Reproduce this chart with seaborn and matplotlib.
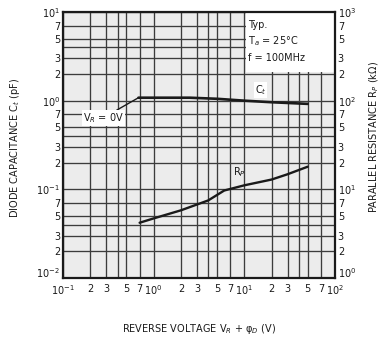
import matplotlib
matplotlib.use("Agg")
import matplotlib.pyplot as plt
import matplotlib.transforms as mtransforms
import seaborn as sns
import pandas as pd
from matplotlib.patches import Rectangle

# Diode capacitance Ct (pF) versus reverse voltage VR + phiD (V)
ct_voltage = [0.68, 2.5, 5, 10, 20, 50]
ct_pf = [1.08, 1.08, 1.05, 1.0, 0.96, 0.92]

# Parallel resistance Rp (kOhm) versus reverse voltage VR + phiD (V)
rp_voltage = [0.7, 1.0, 2.0, 4.0, 6.0, 10.0, 20.0, 30.0, 50.0]
rp_kohm = [4.2, 4.7, 5.8, 7.5, 9.7, 11.1, 12.9, 14.8, 18.0]

# Graph-paper rulings and their labels
x_grid = [0.1, 0.2, 0.3, 0.4, 0.5, 0.7, 1, 2, 3, 4, 5, 7, 10, 20, 30, 40, 50, 70, 100]
x_labels = ["$10^{-1}$", "2", "3", "", "5", "7", "$10^{0}$", "2", "3", "", "5", "7",
            "$10^{1}$", "2", "3", "", "5", "7", "$10^{2}$"]
y_grid = [0.01, 0.02, 0.03, 0.04, 0.05, 0.07, 0.1, 0.2, 0.3, 0.4, 0.5, 0.7, 1, 2, 3, 4, 5, 7, 10]
y_labels = ["$10^{-2}$", "2", "3", "", "5", "7", "$10^{-1}$", "2", "3", "", "5", "7",
            "$10^{0}$", "2", "3", "", "5", "7", "$10^{1}$"]
r_grid = [1, 2, 3, 4, 5, 7, 10, 20, 30, 40, 50, 70, 100, 200, 300, 400, 500, 700, 1000]
r_labels = ["$10^{0}$", "2", "3", "", "5", "7", "$10^{1}$", "2", "3", "", "5", "7",
            "$10^{2}$", "2", "3", "", "5", "7", "$10^{3}$"]

sns.set_theme(style="white")
plt.rcParams["font.family"] = ["DejaVu Sans"]
plt.rcParams["mathtext.fontset"] = "dejavusans"

ink = "#1a1a1a"
grid_ink = "#3c3c3c"
fs = 7

fig = plt.figure(figsize=(3.82, 3.43), dpi=100)
ax = fig.add_axes([63 / 382, (343 - 278) / 343, 272 / 382, 266 / 343])
ax.set_facecolor("#ececec")

ct_df = pd.DataFrame({"voltage": ct_voltage, "ct": ct_pf})
sns.lineplot(data=ct_df, x="voltage", y="ct", ax=ax, color=ink, lw=1.9, zorder=4)

ax.set_xscale("log")
ax.set_yscale("log")
ax.set_xlim(0.1, 100)
ax.set_ylim(0.01, 10)
ax.set_xticks(x_grid)
ax.set_xticklabels(x_labels)
ax.set_yticks(y_grid)
ax.set_yticklabels(y_labels)
ax.minorticks_off()
ax.tick_params(length=0, labelsize=fs, colors=ink, pad=2)
ax.tick_params(axis="x", pad=4)
ax.set_axisbelow(True)
ax.grid(True, which="major", color=grid_ink, lw=0.95)

for s in ax.spines.values():
    s.set_color(ink)
    s.set_linewidth(1.6)

# white label panel in the upper right corner
ax.add_patch(Rectangle((10.4, 2.12), 100 - 10.4, 10 - 2.12, facecolor="white",
                       edgecolor="none", zorder=1.5))
ax.text(11.0, 7.2, "Typ.", fontsize=fs, color=ink, va="center", zorder=3)
ax.text(11.0, 4.7, "T$_a$ = 25°C", fontsize=fs, color=ink, va="center", zorder=3)
ax.text(11.0, 3.0, "f = 100MHz", fontsize=fs, color=ink, va="center", zorder=3)

ax.text(13.0, 1.32, "C$_t$", fontsize=fs, color=ink, va="center",
        bbox=dict(facecolor="white", edgecolor="none", pad=0.5), zorder=3)

# zero-bias marker
ax.annotate("V$_R$ = 0V", xy=(ct_voltage[0], ct_pf[0]), xytext=(0.165, 0.64),
            fontsize=fs, color=ink, va="center", zorder=5,
            bbox=dict(facecolor="white", edgecolor="none", pad=0.6),
            arrowprops=dict(arrowstyle="-", color=ink, lw=1.0, shrinkA=0, shrinkB=0))

ax.set_xlabel("REVERSE VOLTAGE V$_R$ + φ$_D$ (V)", fontsize=fs, color=ink)
ax.xaxis.set_label_coords(0.5, -0.165)
ax.set_ylabel("DIODE CAPACITANCE C$_t$ (pF)", fontsize=fs, color=ink)
ax.yaxis.set_label_coords(-0.152, 0.49)

# right-hand axis for parallel resistance
ax2 = ax.twinx()
rp_df = pd.DataFrame({"voltage": rp_voltage, "rp": rp_kohm})
sns.lineplot(data=rp_df, x="voltage", y="rp", ax=ax2, color=ink, lw=1.7)
ax2.set_yscale("log")
ax2.set_ylim(1, 1000)
ax2.set_yticks(r_grid)
ax2.set_yticklabels(r_labels)
ax2.minorticks_off()
ax2.tick_params(length=0, labelsize=fs, colors=ink, pad=2)
ax2.set_ylabel("PARALLEL RESISTANCE R$_P$ (kΩ)", fontsize=fs, color=ink, rotation=90)
ax2.yaxis.set_label_coords(1.12, 0.53)
ax2.text(8.9, 15.8, "R$_P$", fontsize=fs, color=ink, va="center", ha="center")
for s in ax2.spines.values():
    s.set_visible(False)

# lift the lowest y labels a little so they clear the x labels
lift = mtransforms.ScaledTranslation(0, 4 / 72, fig.dpi_scale_trans)
for lab in (ax.get_yticklabels()[0], ax2.get_yticklabels()[0]):
    lab.set_transform(lab.get_transform() + lift)

fig.savefig("out.png", dpi=100)
